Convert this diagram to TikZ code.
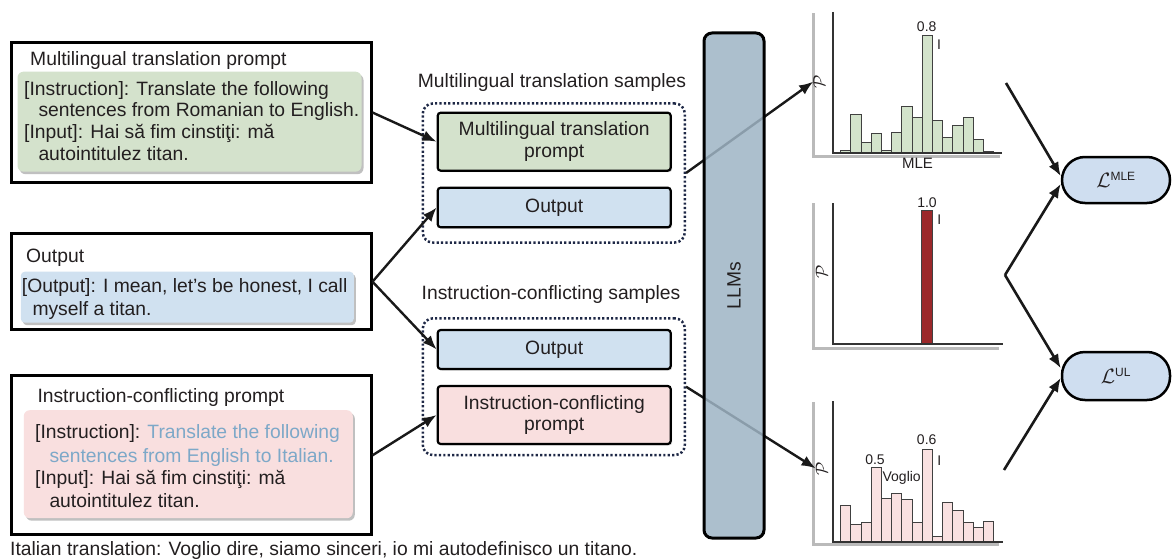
\documentclass[tikz,border=0pt]{standalone}
\usepackage{fontspec}
\setmainfont{Liberation Sans}
\usetikzlibrary{arrows.meta,shadows,calc}
\definecolor{txt}{RGB}{35,31,32}
\definecolor{gfill}{RGB}{212,226,204}
\definecolor{bfill}{RGB}{208,225,240}
\definecolor{pfill}{RGB}{249,223,223}
\definecolor{llmfill}{RGB}{158,180,196}
\definecolor{lossfill}{RGB}{207,222,240}
\definecolor{instblue}{RGB}{125,168,200}
\definecolor{dotcol}{RGB}{30,40,70}
\definecolor{redbar}{RGB}{155,40,42}
\definecolor{gbar}{RGB}{211,227,203}
\definecolor{pbar}{RGB}{249,225,225}
\newcommand\fs{\fontsize{19.3}{21.7}\selectfont}
\newcommand\fsm{\fontsize{14}{14}\selectfont}
\begin{document}
\begin{tikzpicture}[x=1pt,y=-1pt,
  every node/.style={text=txt},
  outerbox/.style={draw=black, line width=3pt, fill=white, inner sep=0pt},
  innerbox/.style={rounded corners=6pt, inner sep=0pt,
    drop shadow={shadow xshift=2pt, shadow yshift=-2.5pt, opacity=0.35, fill=black!70}},
  tl/.style={anchor=base west, inner sep=0pt, font=\fs},
  midbox/.style={draw=black, line width=2.2pt, rounded corners=3pt, minimum width=233pt,
    inner sep=0pt, font=\fs, align=center,
    drop shadow={shadow xshift=1.5pt, shadow yshift=-1.5pt, opacity=0.3}},
  dotbox/.style={draw=dotcol, line width=2.5pt, dash pattern=on 2.2pt off 2.2pt,
    rounded corners=10pt, inner sep=0pt, minimum width=262pt},
  arr/.style={-{Latex[length=14pt,width=11pt]}, line width=2.4pt, draw=black!90},
  panel/.style={fill=white, draw=none,
    drop shadow={shadow xshift=-3pt, shadow yshift=-3pt, opacity=0.45, fill=black!60}},
  axis/.style={line width=1.3pt, draw=black!80},
  barg/.style={fill=gbar, draw=black!75, line width=0.9pt},
  barp/.style={fill=pbar, draw=black!75, line width=0.9pt},
  clab/.style={inner sep=0pt, font=\fsm},
  plab/.style={inner sep=0pt, rotate=90, font=\fontsize{17}{17}\selectfont},
  loss/.style={draw=black, line width=2.5pt, fill=lossfill, rounded corners=23pt,
    minimum width=108pt, inner sep=0pt, font=\fs}
]
\useasboundingbox (0,0) rectangle (1172,559);

% ---------- left boxes ----------
\node[outerbox, minimum width=360pt, minimum height=139pt] (b1) at (191,112.5) {};
\node[innerbox, fill=gfill, minimum width=344pt, minimum height=100pt] (b1in) at (189.5,121.7) {};
\node[tl] (b1t) at (30,65.3) {Multilingual translation prompt};
\node[tl] (b1l1) at (24,95.3) {[Instruction]: Translate the following};
\node[tl] (b1l2) at (38.3,117) {sentences from Romanian to English.};
\node[tl] (b1l3) at (24,138.7) {[Input]: Hai să fim cinstiţi: mă};
\node[tl] (b1l4) at (38.3,160.3) {autointitulez titan.};

\node[outerbox, minimum width=360pt, minimum height=96pt] (b2) at (191,281.7) {};
\node[innerbox, fill=bfill, minimum width=333pt, minimum height=51pt, rounded corners=4pt] (b2in) at (187.3,297.2) {};
\node[tl] (b2t) at (26,262) {Output};
\node[tl] (b2l1) at (21.7,292) {[Output]: I mean, let’s be honest, I call};
\node[tl] (b2l2) at (32.3,315.3) {myself a titan.};

\node[outerbox, minimum width=360pt, minimum height=159pt] (b3) at (191,455.3) {};
\node[innerbox, fill=pfill, minimum width=329pt, minimum height=108pt] (b3in) at (188.3,464.2) {};
\node[tl] (b3t) at (37.3,402) {Instruction-conflicting prompt};
\node[tl] (b3l1) at (35,438.7) {[Instruction]: \textcolor{instblue}{Translate the following}};
\node[tl, text=instblue] (b3l2) at (49.3,462) {sentences from English to Italian.};
\node[tl] (b3l3) at (35,484.3) {[Input]: Hai să fim cinstiţi: mă};
\node[tl] (b3l4) at (49.3,507) {autointitulez titan.};

\node[tl] (cap) at (10,555) {Italian translation: Voglio dire, siamo sinceri, io mi autodefinisco un titano.};

% ---------- middle ----------
\node[inner sep=0pt, font=\fs] (s1) at (552,83) {Multilingual translation samples};
\node[dotbox, minimum height=139pt] (d1) at (553.8,173) {};
\node[midbox, fill=gfill, minimum height=58pt] (m1) at (554.2,141.7) {Multilingual translation\\prompt};
\node[midbox, fill=bfill, minimum height=39.6pt] (m2) at (554.2,207.5) {Output};

\node[inner sep=0pt, font=\fs] (s2) at (551,295) {Instruction-conflicting samples};
\node[dotbox, minimum height=136.7pt] (d2) at (553.8,386.7) {};
\node[midbox, fill=bfill, minimum height=39pt] (m3) at (554.2,349.5) {Output};
\node[midbox, fill=pfill, minimum height=58pt] (m4) at (554.2,415) {Instruction-conflicting\\prompt};

\draw[arr] (b1.east) -- (m1.west);
\draw[arr] (b2.east) -- (m2.west);
\draw[arr] (b2.east) -- (m3.west);
\draw[arr] (b3.east) -- (m4.west);

% ---------- charts ----------
\fill[panel] (815,10) rectangle (1003,155);
\fill[panel] (815,200) rectangle (1002,347);
\fill[panel] (815,399) rectangle (1002,543);

% chart 1
\foreach \t [count=\i from 0] in {150,114.3,142.7,133.3,150,132.7,106.7,117.3,35,120.7,137.3,125,117.3,139.3,151.5}
  \draw[barg] ({840.7+\i*10.2},153) rectangle ({850.9+\i*10.2},\t);
\draw[axis] (833,12) -- (833,153) -- (1002,153);
\node[clab] (v08) at (926.7,26.7) {0.8};
\node[clab] (i1) at (939,45) {I};
\node[clab, font=\fontsize{15}{15}\selectfont] (mle) at (917.5,163.3) {MLE};
\node[plab] (P1) at (819.3,81.7) {$\mathcal{P}$};

% chart 2
\draw[fill=redbar, draw=black!75, line width=0.9pt] (921.7,210) rectangle (932.3,344);
\draw[axis] (833,203) -- (833,344) -- (1003,344);
\node[clab] (v10) at (927,202.7) {1.0};
\node[clab] (i2) at (939.3,219.3) {I};
\node[plab] (P2) at (821.7,271.7) {$\mathcal{P}$};

% chart 3
\foreach \t [count=\i from 0] in {505.3,524.3,522.7,467.7,498,493.3,499.3,522.3,449,536.7,502,510.7,522.7,527.3,521}
  \draw[barp] ({840.7+\i*10.2},542) rectangle ({850.9+\i*10.2},\t);
\draw[axis] (833,401) -- (833,542) -- (1003,542);
\node[clab] (v05) at (875,459.3) {0.5};
\node[clab] (v06) at (926.7,440) {0.6};
\node[clab] (vog) at (901.7,478.3) {Voglio};
\node[clab] (i3) at (939.3,460.7) {I};
\node[plab] (P3) at (821.7,468.3) {$\mathcal{P}$};

% ---------- LLM arrows and box ----------
\draw[arr] (d1.east) -- (P1.north);
\draw[arr] (d2.east) -- (P3.north);
\node[draw=black, line width=3pt, fill=llmfill, fill opacity=0.85, text opacity=1,
  rounded corners=8pt, minimum width=60pt, minimum height=505pt, inner sep=0pt, font=\fs]
  (llm) at (734,285.5) {\rotatebox{90}{LLMs}};

% ---------- losses ----------
\node[loss, minimum height=46pt] (L1) at (1116,180) {$\mathcal{L}^{\hbox{\fontsize{12}{12}\selectfont MLE}}$};
\node[loss, minimum height=48pt] (L2) at (1116,376) {$\mathcal{L}^{\hbox{\fontsize{12}{12}\selectfont UL}}$};
\coordinate (r1) at (1006,83);
\coordinate (v) at (1005,275);
\coordinate (r3) at (1004,470);
\draw[arr, line width=2.6pt] (r1) -- (L1.176);
\draw[arr, line width=2.6pt] (v) -- (L1.184);
\draw[arr, line width=2.6pt] (v) -- (L2.172);
\draw[arr, line width=2.6pt] (r3) -- (L2.182);
\end{tikzpicture}
\end{document}
